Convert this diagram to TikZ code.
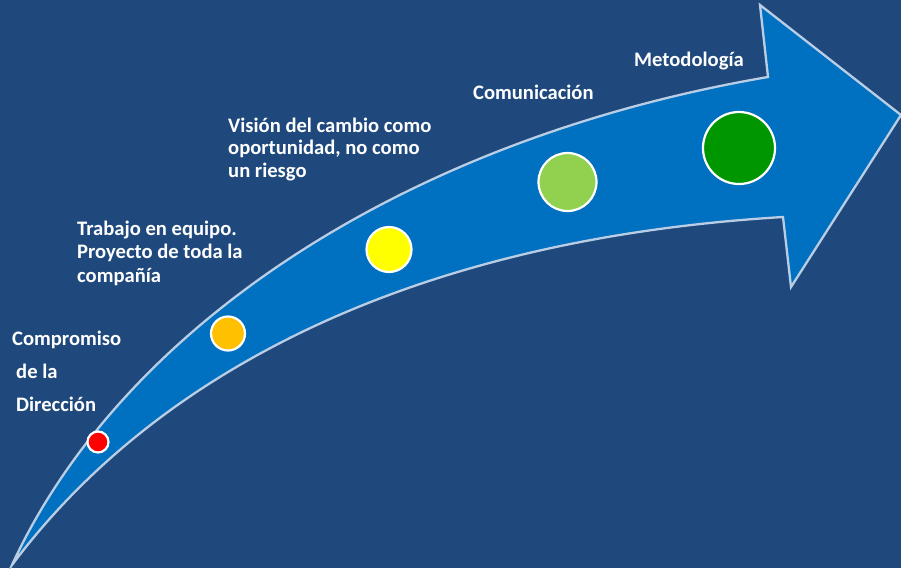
\documentclass[tikz,border=0pt]{standalone}
\usepackage{fontspec}
\setmainfont{Carlito}
\definecolor{bgblue}{HTML}{1F497D}
\definecolor{arrowblue}{HTML}{0070C0}
\definecolor{edgeblue}{HTML}{B9CDE5}
\definecolor{cred}{HTML}{FF0000}
\definecolor{corange}{HTML}{FFC000}
\definecolor{cyellow}{HTML}{FFFF00}
\definecolor{clgreen}{HTML}{92D050}
\definecolor{cdgreen}{HTML}{009600}
\newcommand\lbl[1]{\begin{tabular}[t]{@{}l@{}}#1\end{tabular}}
\tikzset{
  dot/.style={circle, draw=white, line width=2.2pt, inner sep=0pt},
  txt/.style={anchor=base west, inner sep=0pt, text=white, font=\bfseries\fontsize{20.6}{23.5}\selectfont}
}
\begin{document}
\begin{tikzpicture}[x=1pt,y=-1pt]
\fill[bgblue] (0,0) rectangle (901,568);
\useasboundingbox (0,0) rectangle (901,568);
\filldraw[fill=arrowblue, draw=edgeblue, line width=2.3pt]
  (12,565) .. controls (120,330) and (400,140) .. (768,77)
  -- (760,5) -- (901,115) -- (791,287) -- (783,217)
  .. controls (400,240) and (150,380) .. (12,565) -- cycle;
\node[dot, fill=cred, minimum size=21pt] (d1) at (98,442) {};
\node[dot, fill=corange, minimum size=34pt] (d2) at (228,333.5) {};
\node[dot, fill=cyellow, minimum size=45pt] (d3) at (389,249.5) {};
\node[dot, fill=clgreen, minimum size=58pt] (d4) at (567.5,182) {};
\node[dot, fill=cdgreen, minimum size=72pt] (d5) at (739,148) {};
\node[txt, font=\bfseries\fontsize{20.6}{33}\selectfont] (t1) at (12,345) {\lbl{Compromiso\\\hspace{4pt}de la\\\hspace{4pt}Dirección}};
\node[txt] (t2) at (77,235) {\lbl{Trabajo en equipo.\\Proyecto de toda la\\compañía}};
\node[txt, font=\bfseries\fontsize{20.6}{22.5}\selectfont] (t3) at (228,132) {\lbl{Visión del cambio como\\oportunidad, no como\\un riesgo}};
\node[txt] (t4) at (473,99) {Comunicación};
\node[txt] (t5) at (634,66) {Metodología};
\end{tikzpicture}
\end{document}
